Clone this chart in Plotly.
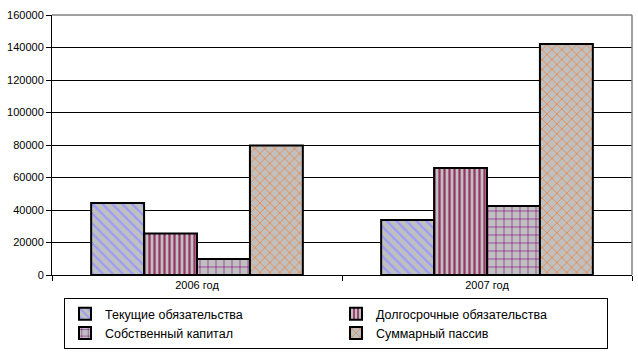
import plotly.graph_objects as go

categories = ["2006 год", "2007 год"]
series_names = ["Текущие обязательства", "Долгосрочные обязательства",
                "Собственный капитал", "Суммарный пассив"]
current_liab = [44300, 33800]
longterm_liab = [25600, 65800]
equity = [9800, 42500]
total_liab = [79700, 142200]
y_ticks = [0, 20000, 40000, 60000, 80000, 100000, 120000, 140000, 160000]

values = [current_liab, longterm_liab, equity, total_liab]
shapes_p = ["\\", "|", "+", "x"]
fg = ["#9999ff", "#993366", "#800080", "#ff6600"]
sizes = [7, 5, 8, 7]
sol = [0.3, 0.45, 0.15, 0.15]

fig = go.Figure()
for name, v, sh, c, sz, so in zip(series_names, values, shapes_p, fg, sizes, sol):
    fig.add_trace(go.Bar(
        x=categories, y=v, name=name,
        marker=dict(color="#c0c0c0",
                    line=dict(color="black", width=2),
                    pattern=dict(shape=sh, fgcolor=c, bgcolor="#c0c0c0",
                                 size=sz, solidity=so, fillmode="replace")),
    ))

fig.update_layout(
    width=638, height=352,
    margin=dict(l=52, r=6, t=15, b=77),
    paper_bgcolor="white", plot_bgcolor="white",
    barmode="group", bargap=0.27, bargroupgap=0,
    font=dict(family="Liberation Sans, Arial, sans-serif", size=11, color="black"),
    showlegend=True,
    legend=dict(orientation="h", xref="container", yref="container",
                x=64 / 638, xanchor="left", y=1 - 298 / 352, yanchor="top",
                entrywidth=226, entrywidthmode="pixels",
                bordercolor="black", borderwidth=1, bgcolor="white",
                font=dict(size=12.5, family="Liberation Sans, Arial, sans-serif"),
                tracegroupgap=0),
    shapes=[
        dict(type="line", xref="paper", yref="paper", x0=0, x1=1, y0=1, y1=1,
             line=dict(color="#808080", width=1.5)),
        dict(type="line", xref="paper", yref="paper", x0=1, x1=1, y0=0, y1=1,
             line=dict(color="#808080", width=1.5)),
    ],
)
fig.update_yaxes(range=[0, 160000], tickvals=y_ticks, ticktext=[str(t) for t in y_ticks],
                 showgrid=True, gridcolor="black", gridwidth=1,
                 showline=True, linecolor="black", linewidth=1,
                 ticks="outside", ticklen=5, tickcolor="black",
                 tickfont=dict(size=11, family="Liberation Sans, Arial, sans-serif"),
                 zeroline=False, automargin=False)
fig.update_xaxes(showline=True, linecolor="black", linewidth=1,
                 ticks="outside", tickson="boundaries", ticklen=5, tickcolor="black",
                 tickfont=dict(size=11, family="Liberation Sans, Arial, sans-serif"),
                 automargin=False)

fig.write_html("out.html")
